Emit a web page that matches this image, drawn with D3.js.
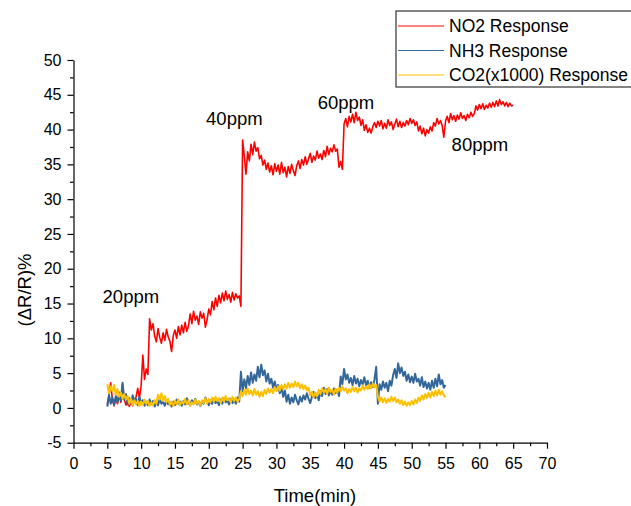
<!DOCTYPE html>
<html>
<head>
<meta charset="utf-8">
<script src="https://cdn.jsdelivr.net/npm/d3@7"></script>
<style>
	body { margin: 0; background: #fff; }
	text { font-family: Arial, "Liberation Sans", sans-serif; fill: #000; }
</style>
</head>
<body>
<div id="chart"></div>
<script>
const sampleStep = 0.25;

const no2Start = 5;
const no2Values = [
	0.5, 1.8, 3.6, 1.2, 0.3, 1.5, 0.6, 1.9, 0.8, 3.4, 1.3, 0.4, 1.1, 0.2, 0.9, 0.3, 1.0, 1.6, 2.8, 1.4,
	3.2, 7.6, 4.1, 5.6, 4.8, 12.8, 11.2, 12.1, 10.3, 9.5, 11.4, 10.1, 9.3, 10.8, 9.7, 11.3, 10.2, 9.6, 8.1, 10.4,
	11.2, 10.0, 11.7, 10.5, 11.9, 10.8, 12.3, 11.0, 11.8, 13.5, 12.1, 13.9, 12.6, 13.2, 12.0, 13.8, 12.9, 13.6, 11.6, 12.7,
	14.2, 13.4, 15.3, 14.1, 15.8, 14.6, 16.2, 15.1, 16.5, 15.4, 16.8, 15.6, 16.3, 15.2, 16.6, 15.5, 16.4, 15.8, 16.1, 14.6,
	38.5, 36.2, 33.6, 36.8, 35.5, 37.9, 36.4, 38.2, 36.9, 37.4, 35.8, 36.3, 34.9, 35.6, 34.3, 35.2, 33.9, 34.8, 33.5, 35.1,
	34.0, 34.9, 33.6, 35.3, 33.8, 34.6, 33.2, 34.7, 33.7, 35.0, 34.1, 33.4, 34.8, 35.5, 34.4, 35.7, 34.9, 36.1, 35.0, 35.8,
	36.6, 35.3, 36.2, 35.6, 36.9, 35.9, 36.5, 35.7, 37.0, 36.1, 37.6, 36.4, 37.3, 36.8, 37.8, 36.9, 37.2, 34.6, 35.4, 34.3,
	40.8, 41.6, 40.4, 41.9, 41.1, 42.2, 41.0, 42.5, 41.3, 41.8, 40.6, 41.4, 39.9, 40.7, 39.6, 40.2, 39.5, 40.4, 41.0, 40.3,
	41.2, 40.5, 41.3, 40.1, 40.9, 40.2, 41.4, 40.6, 41.1, 40.0, 40.8, 41.5, 40.4, 41.2, 40.3, 41.0, 40.5, 41.3, 40.7, 41.6,
	40.9, 41.4, 40.6, 41.1, 39.8, 40.5, 39.4, 40.2, 39.1, 40.0, 39.5, 40.4, 39.8, 41.0, 40.5, 41.6, 40.8, 41.3, 40.6, 38.9,
	41.2, 41.9, 41.0, 42.3, 41.4, 42.0, 41.2, 42.1, 41.5, 42.4, 41.6, 42.0, 41.3, 42.2, 41.7, 42.5, 41.9, 42.3, 43.4, 42.8,
	43.6, 43.0, 43.7, 42.9, 43.5, 43.1, 43.8, 43.2, 43.9, 43.3, 44.1, 43.4, 44.3, 43.6, 44.0, 43.4, 43.9, 43.3, 43.8, 43.4,
	43.5
];

const nh3Start = 5;
const nh3Values = [
	0.2, 1.9, 0.6, 1.5, 0.4, 1.7, 0.8, 2.2, 1.0, 3.6, 1.2, 2.0, 0.5, 1.4, 0.7, 1.8, 0.9, 1.3, 0.4, 1.6,
	0.6, 1.1, 0.3, 0.9, 0.4, 1.2, 0.5, 1.0, 0.2, 0.8, 0.4, 1.3, 0.6, 0.9, 0.3, 1.1, 0.5, 0.8, 0.2, 0.9,
	0.4, 1.2, 0.6, 0.9, 0.3, 1.0, 0.5, 1.4, 0.7, 0.4, 1.1, 0.6, 1.3, 0.5, 0.9, 0.3, 1.0, 0.6, 1.5, 0.8,
	0.4, 1.1, 0.6, 1.3, 0.7, 1.0, 0.4, 1.2, 0.6, 1.4, 0.8, 1.1, 0.5, 1.3, 0.7, 1.2, 0.6, 1.5, 0.9, 5.2,
	2.4, 4.1, 2.8, 4.6, 3.3, 5.1, 3.6, 4.8, 3.9, 5.9, 4.4, 6.2, 4.7, 5.4, 3.8, 4.9, 3.5, 4.2, 2.9, 3.8,
	2.6, 3.3, 2.1, 3.0, 1.6, 2.5, 0.9, 1.9, 0.6, 1.5, 0.8, 1.9, 1.1, 0.5, 1.6, 0.9, 1.8, 1.2, 2.1, 1.3,
	0.7, 1.6, 2.3, 1.4, 2.0, 1.1, 2.4, 1.7, 2.9, 2.0, 2.7, 1.8, 2.5, 1.9, 2.8, 2.1, 2.6, 1.7, 4.5, 3.4,
	5.6, 4.1, 4.8, 3.6, 4.3, 3.3, 4.6, 3.5, 4.2, 3.1, 4.0, 3.4, 4.4, 3.2, 3.9, 2.9, 3.7, 3.0, 4.1, 5.9,
	0.6, 3.4, 2.6, 3.8, 2.9, 3.6, 2.4, 3.9, 3.2, 4.7, 5.6, 4.3, 6.4, 5.0, 5.8, 4.6, 5.2, 3.9, 4.8, 3.7,
	4.5, 3.6, 4.9, 3.8, 4.2, 3.2, 4.4, 3.0, 3.8, 2.8, 3.6, 2.6, 3.9, 2.9, 4.2, 3.1, 4.8, 3.4, 4.0, 2.9,
	3.3
];

const co2Start = 5;
const co2Values = [
	3.4, 2.1, 3.1, 2.4, 3.3, 1.9, 2.7, 1.6, 2.2, 1.3, 2.0, 1.2, 1.7, 0.6, 1.3, 0.4, 1.1, 0.5, 1.0, 0.3,
	0.9, 0.4, 1.2, 0.6, 1.0, 0.3, 0.8, 0.4, 1.1, 0.6, 1.9, 1.2, 2.1, 1.0, 1.7, 0.8, 1.3, 0.4, 0.9, 0.3,
	1.0, 0.5, 1.2, 0.4, 0.9, 0.6, 1.3, 0.5, 1.1, 0.3, 0.8, 0.5, 1.2, 0.6, 1.0, 0.4, 1.1, 0.7, 1.4, 0.6,
	1.3, 0.8, 1.5, 0.9, 1.6, 1.0, 1.4, 0.7, 1.5, 0.9, 1.7, 1.1, 1.4, 0.8, 1.6, 1.0, 1.5, 0.9, 1.3, 2.4,
	1.7, 2.6, 1.9, 2.8, 2.0, 2.5, 1.8, 2.7, 1.9, 2.4, 1.6, 2.3, 1.7, 2.6, 2.0, 2.8, 2.2, 2.7, 2.1, 3.0,
	2.4, 3.1, 2.5, 3.3, 2.7, 3.4, 2.8, 3.6, 2.9, 3.5, 3.0, 3.8, 3.1, 3.6, 2.8, 3.4, 2.7, 3.2, 2.5, 2.9,
	1.8, 2.3, 1.5, 2.2, 1.7, 2.6, 2.0, 2.8, 2.2, 2.7, 2.0, 2.9, 2.3, 2.6, 1.9, 2.8, 2.2, 2.9, 2.4, 3.1,
	2.5, 2.8, 2.1, 2.7, 2.3, 3.0, 2.4, 2.9, 2.2, 2.8, 2.5, 3.2, 2.6, 3.1, 2.7, 3.4, 2.8, 3.5, 3.0, 3.3,
	1.6, 0.9, 1.5, 0.8, 1.4, 0.7, 1.3, 0.9, 1.6, 1.0, 1.5, 0.8, 1.2, 0.6, 1.1, 0.4, 0.9, 0.3, 0.8, 0.4,
	1.0, 0.5, 1.2, 0.7, 1.5, 1.0, 1.8, 1.2, 2.0, 1.4, 2.2, 1.5, 2.3, 1.7, 2.5, 1.8, 2.6, 1.9, 2.4, 1.8,
	1.5
];

const seriesNames = ["NO2 Response", "NH3 Response", "CO2(x1000) Response"];
const seriesColors = ["#ff0000", "#336699", "#ffc000"];
const seriesWidths = [1.6, 2, 2];

const xTicks = [0, 5, 10, 15, 20, 25, 30, 35, 40, 45, 50, 55, 60, 65, 70];
const yTicks = [-5, 0, 5, 10, 15, 20, 25, 30, 35, 40, 45, 50];

const annotations = [
	{ label: "20ppm", t: 4.3, v: 15.1 },
	{ label: "40ppm", t: 19.6, v: 40.7 },
	{ label: "60ppm", t: 36.1, v: 42.9 },
	{ label: "80ppm", t: 55.9, v: 36.9 },
];

window.addEventListener("DOMContentLoaded", () => {
	let width = 631,
		height = 506;

	let svg = d3.select("#chart").append("svg").attr("width", width).attr("height", height);

	let x = d3.scaleLinear().domain([0, 70]).range([73.5, 547]);
	let y = d3.scaleLinear().domain([-5, 50]).range([442.7, 60]);

	let toPoints = (start, values) => values.map((v, i) => ({ t: start + i * sampleStep, v: v }));
	let series = [toPoints(no2Start, no2Values), toPoints(nh3Start, nh3Values), toPoints(co2Start, co2Values)];

	let line = d3
		.line()
		.x((d) => x(d.t))
		.y((d) => y(d.v));

	// NO2 drawn first, CO2 last so it sits on top like in the original
	svg
		.append("g")
		.selectAll("path")
		.data(series)
		.enter()
		.append("path")
		.attr("d", line)
		.attr("fill", "none")
		.attr("stroke", (d, i) => seriesColors[i])
		.attr("stroke-width", (d, i) => seriesWidths[i])
		.attr("stroke-linejoin", "round");

	// minor ticks
	let minorX = d3.range(2.5, 70, 5);
	let minorY = d3.range(-2.5, 50, 5);
	svg
		.append("g")
		.attr("transform", `translate(0,${y(-5)})`)
		.call(d3.axisBottom(x).tickValues(minorX).tickSize(3.5).tickFormat(""))
		.call((g) => g.select(".domain").remove());
	svg
		.append("g")
		.attr("transform", `translate(${x(0)},0)`)
		.call(d3.axisLeft(y).tickValues(minorY).tickSize(3.5).tickFormat(""))
		.call((g) => g.select(".domain").remove());

	// main axes, plain hyphen for negatives like the original
	let plain = (d) => String(d);
	let xAxis = svg
		.append("g")
		.attr("transform", `translate(0,${y(-5)})`)
		.call(d3.axisBottom(x).tickValues(xTicks).tickFormat(plain).tickSizeInner(6).tickSizeOuter(0).tickPadding(9));
	let yAxis = svg
		.append("g")
		.attr("transform", `translate(${x(0)},0)`)
		.call(d3.axisLeft(y).tickValues(yTicks).tickFormat(plain).tickSizeInner(6).tickSizeOuter(0).tickPadding(6));

	svg.selectAll(".tick line, .domain").attr("stroke", "#000").attr("stroke-width", 1.2);
	xAxis.selectAll("text").style("font-size", "16px").style("font-family", "Arial, 'Liberation Sans', sans-serif");
	yAxis.selectAll("text").style("font-size", "16px").style("font-family", "Arial, 'Liberation Sans', sans-serif");

	// axis titles
	svg.append("text").attr("x", 315).attr("y", 501.5).attr("text-anchor", "middle").style("font-size", "18.5px").text("Time(min)");
	svg
		.append("text")
		.attr("transform", "translate(31,290) rotate(-90)")
		.attr("text-anchor", "middle")
		.style("font-size", "18.5px")
		.text("(ΔR/R)%");

	// concentration labels
	svg
		.append("g")
		.selectAll("text")
		.data(annotations)
		.enter()
		.append("text")
		.attr("x", (d) => x(d.t))
		.attr("y", (d) => y(d.v))
		.style("font-size", "18.5px")
		.text((d) => d.label);

	// legend
	let legend = svg.append("g").attr("transform", "translate(396,11)");
	legend.append("rect").attr("width", 250).attr("height", 76).attr("fill", "#fff").attr("stroke", "#333").attr("stroke-width", 1.2);
	let rows = legend
		.selectAll("g.row")
		.data(seriesNames)
		.enter()
		.append("g")
		.attr("class", "row")
		.attr("transform", (d, i) => `translate(0,${15 + i * 24.5})`);
	rows
		.append("line")
		.attr("x1", 2)
		.attr("x2", 48)
		.attr("stroke", (d, i) => seriesColors[i])
		.attr("stroke-width", 1);
	rows
		.append("text")
		.attr("x", 53)
		.attr("y", 6)
		.style("font-size", "17.5px")
		.text((d) => d);
});
</script>
</body>
</html>
